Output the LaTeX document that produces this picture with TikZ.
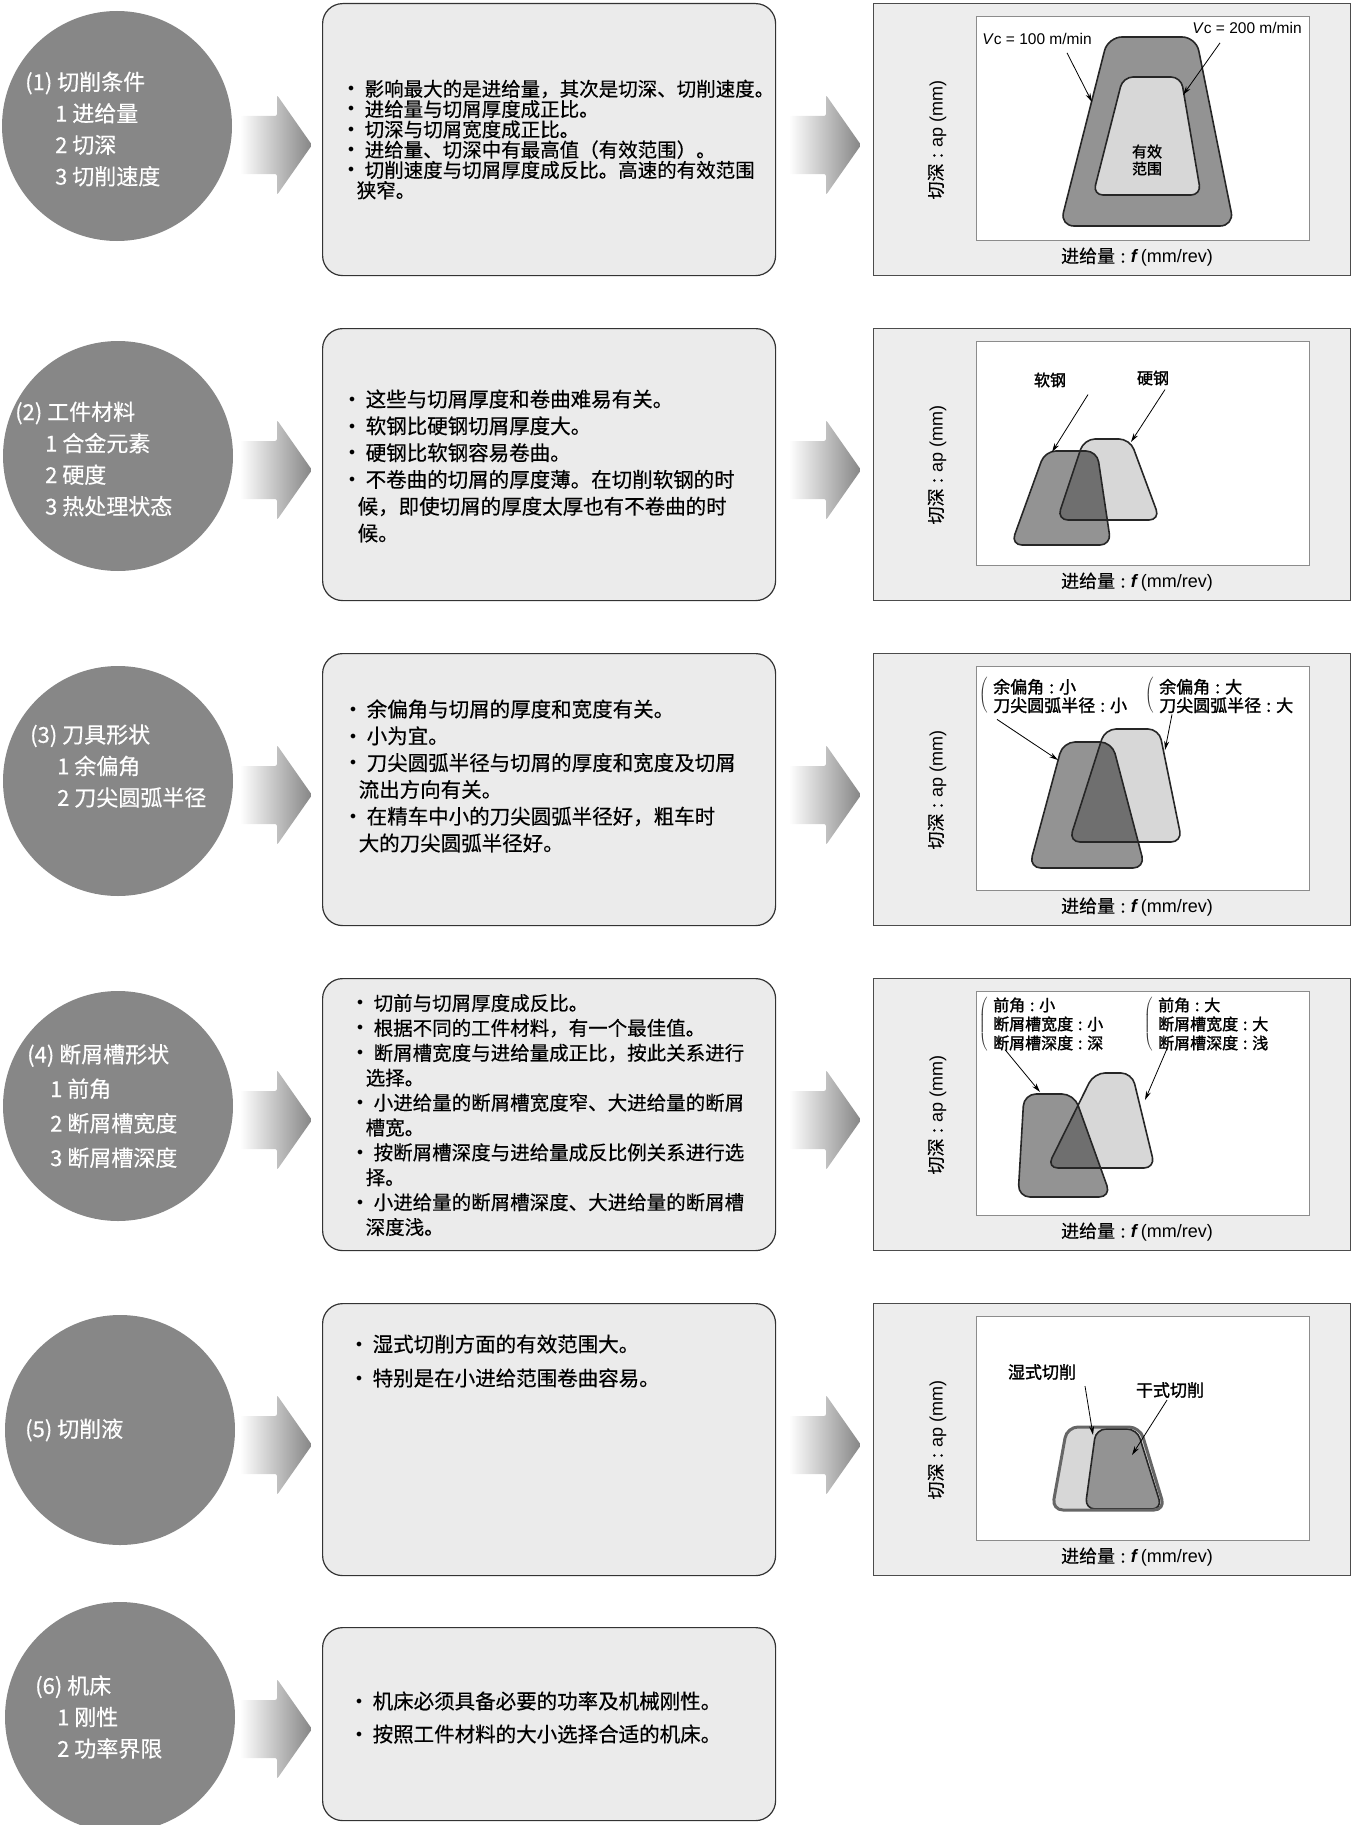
\documentclass[tikz,border=0pt]{standalone}
\usepackage{fontspec}
\setmainfont{Noto Sans CJK SC}[AutoFakeBold=1.5,AutoFakeSlant=0.2,UprightFeatures={FakeBold=0.4}]
\newfontfamily\latinfont{Liberation Sans}
\usepackage{tikz}
\usetikzlibrary{arrows.meta,positioning,calc}
\definecolor{cgray}{HTML}{878787}
\definecolor{notefill}{HTML}{EBEBEB}
\definecolor{framefill}{HTML}{EDEDED}
\definecolor{zonedark}{HTML}{939393}
\definecolor{zonelight}{HTML}{D7D7D7}
\definecolor{zonemix}{HTML}{6F6F6F}
\definecolor{arrowgray}{HTML}{858585}
\newcommand{\bitem}{\makebox[16.5pt][l]{\raisebox{4.5pt}{\fontsize{12}{12}\selectfont$\bullet$}}}
\newcommand{\cont}{\hspace*{8.5pt}}
\newcommand{\cc}{\hspace{0.3em}:\hspace{0.3em}}

\begin{document}
\begin{tikzpicture}[x=1pt, y=-1pt,
  topic/.style={circle, fill=cgray, minimum size=230pt, inner sep=0pt},
  topictext/.style={anchor=west, align=left, text=white, inner sep=0pt, font=\fontsize{22}{31.5}\selectfont},
  notebox/.style={draw=black!80, line width=1.2pt, fill=notefill, rounded corners=20pt, anchor=north west, inner sep=0pt},
  notetext/.style={anchor=west, align=left, inner sep=0pt},
  frame/.style={draw=black!70, line width=1.2pt, fill=framefill, anchor=north west, inner sep=0pt},
  plotarea/.style={draw=black!45, line width=0.8pt, fill=white, anchor=north west, inner sep=0pt},
  axislabel/.style={font=\fontsize{18}{18}\selectfont, inner sep=0pt},
  zone/.style={draw=black!85, line width=1.6pt, rounded corners=11pt},
  tag/.style={font=\bfseries\fontsize{16}{19}\selectfont, align=left, inner sep=0pt},
  paren/.style={anchor=east, inner sep=0pt, text=black!80},
  pointer/.style={-{Stealth[length=9pt,width=5pt]}, line width=0.8pt},
  bigarrow/.style={left color=white, right color=arrowgray, rounded corners=2pt}]

\useasboundingbox (0,0) rectangle (1357,1825);

% gradient arrows between the columns
\foreach \yc in {145,470,795,1120,1445}{
  \foreach \xs in {240,789}{
    \shade[bigarrow] (\xs,\yc-29) -- (\xs+37,\yc-29) -- (\xs+37,\yc-50) -- (\xs+72,\yc)
      -- (\xs+37,\yc+50) -- (\xs+37,\yc+29) -- (\xs,\yc+29) -- cycle;}}
\shade[bigarrow] (240,1700) -- (277,1700) -- (277,1679) -- (312,1729)
  -- (277,1779) -- (277,1758) -- (240,1758) -- cycle;

% topics (left column)
\node[topic] (c1) at (117,126) {};
\node[topic] (c2) at (118,456) {};
\node[topic] (c3) at (118,781) {};
\node[topic] (c4) at (118,1106) {};
\node[topic] (c5) at (120,1430) {};
\node[topic] (c6) at (120,1717) {};
\node[topictext] (k1) at (25,129) {(1) 切削条件\\\hspace*{30pt}1 进给量\\\hspace*{30pt}2 切深\\\hspace*{30pt}3 切削速度};
\node[topictext] (k2) at (15,459) {(2) 工件材料\\\hspace*{30pt}1 合金元素\\\hspace*{30pt}2 硬度\\\hspace*{30pt}3 热处理状态};
\node[topictext] (k3) at (30,766) {(3) 刀具形状\\\hspace*{27pt}1 余偏角\\\hspace*{27pt}2 刀尖圆弧半径};
\node[topictext, font=\fontsize{22}{34.5}\selectfont] (k4) at (27,1106) {(4) 断屑槽形状\\\hspace*{23pt}1 前角\\\hspace*{23pt}2 断屑槽宽度\\\hspace*{23pt}3 断屑槽深度};
\node[topictext] (k5) at (25,1430) {(5) 切削液};
\node[topictext] (k6) at (35,1717) {(6) 机床\\\hspace*{22pt}1 刚性\\\hspace*{22pt}2 功率界限};

% notes (middle column)
\foreach \r in {0,...,4}
  \node[notebox, minimum width=453pt, minimum height=272pt] (n\r) at (322,3+325*\r) {};
\node[notebox, minimum width=453pt, minimum height=193pt] (n5) at (322,1627) {};

\node[notetext, font=\fontsize{19.5}{20.3}\selectfont] (t1) at (348,139.5) {%
\bitem 影响最大的是进给量，其次是切深、切削速度。\\
\bitem 进给量与切屑厚度成正比。\\
\bitem 切深与切屑宽度成正比。\\
\bitem 进给量、切深中有最高值（有效范围）。\\
\bitem 切削速度与切屑厚度成反比。高速的有效范围\\
\cont 狭窄。};
\node[notetext, font=\fontsize{20.5}{26.8}\selectfont] (t2) at (349,466) {%
\bitem 这些与切屑厚度和卷曲难易有关。\\
\bitem 软钢比硬钢切屑厚度大。\\
\bitem 硬钢比软钢容易卷曲。\\
\bitem 不卷曲的切屑的厚度薄。在切削软钢的时\\
\cont 候，即使切屑的厚度太厚也有不卷曲的时\\
\cont 候。};
\node[notetext, font=\fontsize{20.5}{26.8}\selectfont] (t3) at (350,776) {%
\bitem 余偏角与切屑的厚度和宽度有关。\\
\bitem 小为宜。\\
\bitem 刀尖圆弧半径与切屑的厚度和宽度及切屑\\
\cont 流出方向有关。\\
\bitem 在精车中小的刀尖圆弧半径好，粗车时\\
\cont 大的刀尖圆弧半径好。};
\node[notetext, font=\fontsize{19.5}{24.9}\selectfont] (t4) at (357,1115) {%
\bitem 切前与切屑厚度成反比。\\
\bitem 根据不同的工件材料，有一个最佳值。\\
\bitem 断屑槽宽度与进给量成正比，按此关系进行\\
\cont 选择。\\
\bitem 小进给量的断屑槽宽度窄、大进给量的断屑\\
\cont 槽宽。\\
\bitem 按断屑槽深度与进给量成反比例关系进行选\\
\cont 择。\\
\bitem 小进给量的断屑槽深度、大进给量的断屑槽\\
\cont 深度浅。};
\node[notetext, font=\fontsize{20.5}{34}\selectfont] (t5) at (356,1361) {%
\bitem 湿式切削方面的有效范围大。\\
\bitem 特别是在小进给范围卷曲容易。};
\node[notetext, font=\fontsize{20.5}{33}\selectfont] (t6) at (356,1717.5) {%
\bitem 机床必须具备必要的功率及机械刚性。\\
\bitem 按照工件材料的大小选择合适的机床。};

% chart frames (right column)
\foreach \r in {0,...,4}{
  \node[frame, minimum width=477pt, minimum height=272pt] (f\r) at (873,3+325*\r) {};
  \node[plotarea, minimum width=333pt, minimum height=224pt] (g\r) at (976,16+325*\r) {};
  \node[axislabel, rotate=90] (ya\r) at (937,140+325*\r) {切深\cc{\latinfont ap (mm)}};
  \node[axislabel] (xa\r) at (1137,257+325*\r) {进给量\cc{\latinfont\bfseries\itshape f} {\latinfont (mm/rev)}};}

% chart 1 : cutting speed
\draw[zone, fill=zonedark, rounded corners=14pt] (1108,37) -- (1196,37) -- (1234,226) -- (1060,226) -- cycle;
\draw[zone, fill=zonelight, rounded corners=10pt] (1123,77) -- (1181,77) -- (1201,195) -- (1093,195) -- cycle;
\node[tag, align=center, font=\bfseries\fontsize{15}{17}\selectfont] (eff) at (1147,160) {有效\\范围};
\node[inner sep=0pt, font=\latinfont\fontsize{15.5}{15.5}\selectfont] (vc1) at (1037,39) {\textit{V}c = 100 m/min};
\node[inner sep=0pt, font=\latinfont\fontsize{15.5}{15.5}\selectfont] (vc2) at (1247,28) {\textit{V}c = 200 m/min};
\coordinate (p1) at (1092,102);
\coordinate (p2) at (1183,95);
\draw[pointer] ($(vc1.south)+(30,8)$) -- (p1);
\draw[pointer] ($(vc2.south)+(-27,9)$) -- (p2);

% chart 2 : work material
\coordinate (s1) at (1045,451); \coordinate (s2) at (1097,451);
\coordinate (s3) at (1111,545); \coordinate (s4) at (1011,545);
\coordinate (h1) at (1084,439); \coordinate (h2) at (1130,439);
\coordinate (h3) at (1160,520); \coordinate (h4) at (1057,520);
\fill[zonedark, rounded corners=11pt] (s1) -- (s2) -- (s3) -- (s4) -- cycle;
\fill[zonelight, rounded corners=11pt] (h1) -- (h2) -- (h3) -- (h4) -- cycle;
\begin{scope}
  \clip[rounded corners=11pt] (s1) -- (s2) -- (s3) -- (s4) -- cycle;
  \fill[zonemix, rounded corners=11pt] (h1) -- (h2) -- (h3) -- (h4) -- cycle;
\end{scope}
\draw[zone] (s1) -- (s2) -- (s3) -- (s4) -- cycle;
\draw[zone] (h1) -- (h2) -- (h3) -- (h4) -- cycle;
\node[tag] (soft) at (1050,380) {软钢};
\node[tag] (hard) at (1153,378) {硬钢};
\coordinate (p3) at (1052,452);
\coordinate (p4) at (1131,442);
\draw[pointer] ($(soft.south)+(38,7)$) -- (p3);
\draw[pointer] ($(hard.south)+(12,4)$) -- (p4);

% chart 3 : tool shape
\coordinate (a1) at (1063,742); \coordinate (a2) at (1112,742);
\coordinate (a3) at (1145,868); \coordinate (a4) at (1029,868);
\coordinate (b1) at (1105,729); \coordinate (b2) at (1159,729);
\coordinate (b3) at (1182,842); \coordinate (b4) at (1069,842);
\fill[zonedark, rounded corners=12pt] (a1) -- (a2) -- (a3) -- (a4) -- cycle;
\fill[zonelight, rounded corners=11pt] (b1) -- (b2) -- (b3) -- (b4) -- cycle;
\begin{scope}
  \clip[rounded corners=12pt] (a1) -- (a2) -- (a3) -- (a4) -- cycle;
  \fill[zonemix, rounded corners=11pt] (b1) -- (b2) -- (b3) -- (b4) -- cycle;
\end{scope}
\draw[zone, rounded corners=12pt] (a1) -- (a2) -- (a3) -- (a4) -- cycle;
\draw[zone] (b1) -- (b2) -- (b3) -- (b4) -- cycle;
\node[tag, anchor=west, font=\bfseries\fontsize{17}{18.5}\selectfont] (lo) at (993,696) {余偏角\cc 小\\刀尖圆弧半径\cc 小};
\node[tag, anchor=west, font=\bfseries\fontsize{17}{18.5}\selectfont] (hi) at (1159,696) {余偏角\cc 大\\刀尖圆弧半径\cc 大};
\node[paren] (plo) at ([xshift=-4pt]lo.west) {$\left(\rule[-17pt]{0pt}{34pt}\right.$};
\node[paren] (phi) at ([xshift=-4pt]hi.west) {$\left(\rule[-17pt]{0pt}{34pt}\right.$};
\coordinate (p5) at (1058,760);
\coordinate (p6) at (1165,750);
\draw[pointer] ($(lo.south west)+(4,6)$) -- (p5);
\draw[pointer] ($(hi.south west)+(13,1)$) -- (p6);

% chart 4 : chip breaker
\coordinate (d1) at (1024,1094); \coordinate (d2) at (1074,1094);
\coordinate (d3) at (1111,1197); \coordinate (d4) at (1018,1197);
\coordinate (e1) at (1094,1073); \coordinate (e2) at (1132,1073);
\coordinate (e3) at (1155,1168); \coordinate (e4) at (1047,1168);
\fill[zonedark, rounded corners=12pt] (d1) -- (d2) -- (d3) -- (d4) -- cycle;
\fill[zonelight, rounded corners=11pt] (e1) -- (e2) -- (e3) -- (e4) -- cycle;
\begin{scope}
  \clip[rounded corners=12pt] (d1) -- (d2) -- (d3) -- (d4) -- cycle;
  \fill[zonemix, rounded corners=11pt] (e1) -- (e2) -- (e3) -- (e4) -- cycle;
\end{scope}
\draw[zone, rounded corners=12pt] (d1) -- (d2) -- (d3) -- (d4) -- cycle;
\draw[zone] (e1) -- (e2) -- (e3) -- (e4) -- cycle;
\node[tag, anchor=west] (blo) at (993,1024) {前角\cc 小\\断屑槽宽度\cc 小\\断屑槽深度\cc 深};
\node[tag, anchor=west] (bhi) at (1158,1024) {前角\cc 大\\断屑槽宽度\cc 大\\断屑槽深度\cc 浅};
\node[paren] (pblo) at ([xshift=-4pt]blo.west) {$\left(\rule[-25pt]{0pt}{50pt}\right.$};
\node[paren] (pbhi) at ([xshift=-4pt]bhi.west) {$\left(\rule[-25pt]{0pt}{50pt}\right.$};
\coordinate (p7) at (1040,1092);
\coordinate (p8) at (1145,1100);
\draw[pointer] ($(blo.south west)+(12,-1)$) -- (p7);
\draw[pointer] ($(bhi.south west)+(9,-2)$) -- (p8);

% chart 5 : cutting fluid
\coordinate (w1) at (1067,1427); \coordinate (w2) at (1140,1427);
\coordinate (w3) at (1165,1510); \coordinate (w4) at (1052,1510);
\fill[zonelight, rounded corners=11pt] (w1) -- (w2) -- (w3) -- (w4) -- cycle;
\draw[zone, fill=zonedark, rounded corners=10pt] (1096,1429) -- (1137,1429) -- (1162,1509) -- (1085,1509) -- cycle;
\draw[draw=black!60, line width=3pt, rounded corners=11pt] (w1) -- (w2) -- (w3) -- (w4) -- cycle;
\node[tag, font=\bfseries\fontsize{17}{17}\selectfont] (wet) at (1042,1372) {湿式切削};
\node[tag, font=\bfseries\fontsize{17}{17}\selectfont] (dry) at (1170,1390) {干式切削};
\coordinate (p9) at (1093,1435);
\coordinate (p10) at (1132,1455);
\draw[pointer] ($(wet.south)+(43,6)$) -- (p9);
\draw[pointer] ($(dry.south)+(-3,2)$) -- (p10);
\end{tikzpicture}
\end{document}
